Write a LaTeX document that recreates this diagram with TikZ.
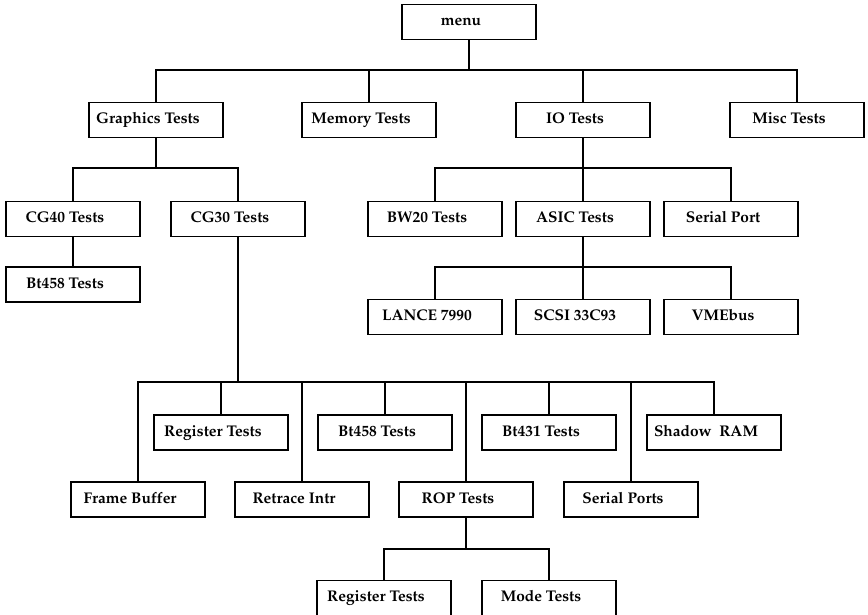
\documentclass[tikz,border=0pt]{standalone}
\usepackage[T1]{fontenc}
\usepackage{mathpazo}

\begin{document}
\begin{tikzpicture}[x=0.025cm,y=-0.025cm,
	testbox/.style={draw, line width=1.3pt, minimum width=3.35cm, minimum height=0.875cm, inner sep=0pt,
		text height=8pt, text depth=2.5pt, font=\fontsize{11}{13}\selectfont\bfseries,
		execute at end node={\hspace*{0.4cm}}},
	link/.style={line width=1.3pt}]
	\useasboundingbox (0,0) rectangle (868,615);
	% top level
	\node[testbox] (menu) at (469,22) {menu};
	\node[testbox] (graphics) at (156,120) {Graphics Tests};
	\node[testbox] (memory) at (369,120) {Memory Tests};
	\node[testbox] (io) at (583,120) {IO Tests};
	\node[testbox] (misc) at (797,120) {Misc Tests};
	% graphics and io branches
	\node[testbox] (cgforty) at (73,219) {CG40 Tests};
	\node[testbox] (cgthirty) at (238,219) {CG30 Tests};
	\node[testbox] (bwtwenty) at (435,219) {BW20 Tests};
	\node[testbox] (asic) at (583,219) {ASIC Tests};
	\node[testbox] (serport) at (731,219) {Serial Port};
	\node[testbox] (btcg) at (73,284.5) {Bt458 Tests};
	\node[testbox] (lance) at (435,317) {LANCE 7990};
	\node[testbox] (scsi) at (583,317) {SCSI 33C93};
	\node[testbox] (vme) at (731,317) {VMEbus};
	% cg30 tests
	\node[testbox] (regtests) at (221,432.5) {Register Tests};
	\node[testbox] (btlut) at (385,432.5) {Bt458 Tests};
	\node[testbox] (btcur) at (549,432.5) {Bt431 Tests};
	\node[testbox] (shadow) at (714,432.5) {Shadow\ \ RAM};
	\node[testbox] (frame) at (138,499.5) {Frame Buffer};
	\node[testbox] (retrace) at (302,499.5) {Retrace Intr};
	\node[testbox] (rop) at (466,499.5) {ROP Tests};
	\node[testbox] (serports) at (631,499.5) {Serial Ports};
	\node[testbox] (ropreg) at (384,598) {Register Tests};
	\node[testbox] (ropmode) at (549,598) {Mode Tests};

	\coordinate (menubus) at (469,70);
	\coordinate (gfxbus) at (156,168);
	\coordinate (iobus) at (583,168);
	\coordinate (asicbus) at (583,267);
	\coordinate (cgbus) at (238,382);
	\coordinate (ropbus) at (466,549);

	\draw[link] (menu) -- (menubus);
	\foreach \n in {graphics,memory,io,misc}
		\draw[link] (\n) |- (menubus);
	\draw[link] (graphics) -- (gfxbus);
	\foreach \n in {cgforty,cgthirty}
		\draw[link] (\n) |- (gfxbus);
	\draw[link] (cgforty) -- (btcg);
	\draw[link] (io) -- (iobus);
	\foreach \n in {bwtwenty,asic,serport}
		\draw[link] (\n) |- (iobus);
	\draw[link] (asic) -- (asicbus);
	\foreach \n in {lance,scsi,vme}
		\draw[link] (\n) |- (asicbus);
	\draw[link] (cgthirty) -- (cgbus);
	\foreach \n in {frame,regtests,retrace,btlut,rop,btcur,serports,shadow}
		\draw[link] (\n) |- (cgbus);
	\draw[link] (rop) -- (ropbus);
	\foreach \n in {ropreg,ropmode}
		\draw[link] (\n) |- (ropbus);
\end{tikzpicture}
\end{document}
